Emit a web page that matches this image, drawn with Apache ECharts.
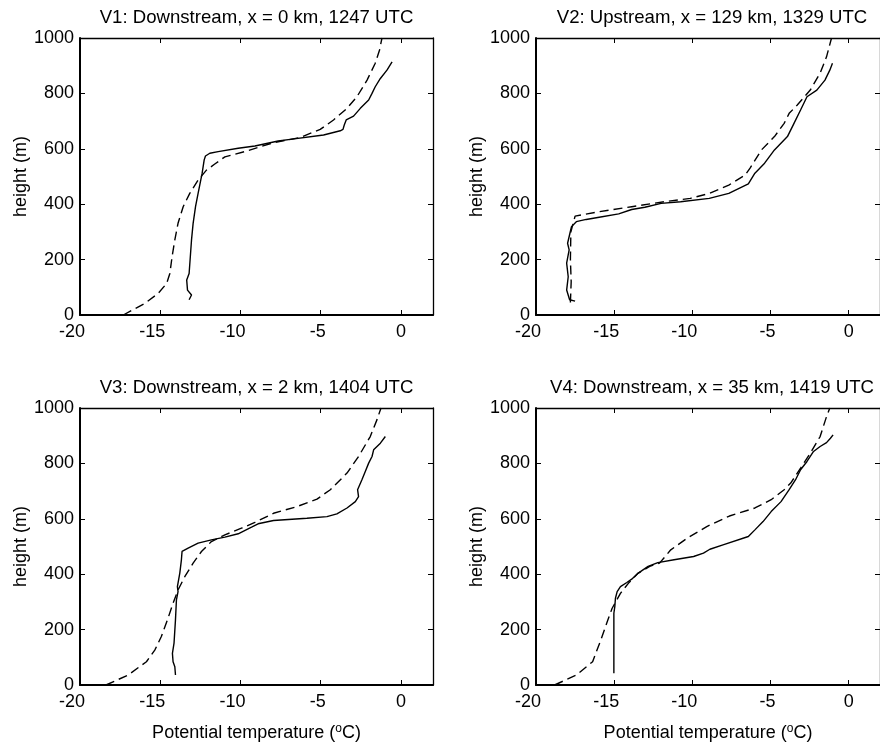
<!DOCTYPE html>
<html>
<head>
<meta charset="utf-8">
<script src="https://cdn.jsdelivr.net/npm/echarts@6/dist/echarts.min.js"></script>
<style>html,body{margin:0;padding:0;background:#fff}#c{width:880px;height:747px}</style>
</head>
<body>
<div id="c"></div>
<script>
// Titles
const titles = [
  'V1: Downstream, x = 0 km, 1247 UTC',
  'V2: Upstream, x = 129 km, 1329 UTC',
  'V3: Downstream, x = 2 km, 1404 UTC',
  'V4: Downstream, x = 35 km, 1419 UTC'
];
const xTicks = [-20, -15, -10, -5, 0];
const yTicks = [0, 200, 400, 600, 800, 1000];

// [potential temperature (°C), height (m)]
const v1Solid = [[-13.2,55],[-13.05,72],[-13.3,90],[-13.35,126],[-13.2,150],[-13.05,271],[-12.95,331],[-12.8,391],[-12.64,439],[-12.39,511],[-12.26,560],[-12.18,574],[-11.91,584],[-11.39,590],[-10.14,602],[-9.1,610],[-7.65,628],[-6.9,634],[-4.82,650],[-3.78,665],[-3.61,670],[-3.53,686],[-3.41,704],[-2.95,718],[-2.53,746],[-2.01,776],[-1.8,800],[-1.6,824],[-1.28,854],[-0.87,884],[-0.55,914]];
const v1Dash = [[-17.3,0],[-15.96,42],[-15.13,78],[-14.6,114],[-14.4,150],[-14.26,211],[-14.09,271],[-13.89,331],[-13.57,391],[-13.16,439],[-12.64,487],[-12.12,523],[-11.6,545],[-10.97,571],[-9.73,590],[-8.9,605],[-7.94,622],[-6.28,641],[-5.03,670],[-4.2,704],[-3.36,746],[-2.74,788],[-2.11,848],[-1.6,909],[-1.33,957],[-1.18,1000]];

const v2Solid = [[-17.5,50],[-17.85,55],[-18.04,90],[-17.94,138],[-18.04,187],[-17.88,235],[-17.98,259],[-17.83,295],[-17.73,319],[-17.42,337],[-16.79,345],[-15.96,353],[-14.71,365],[-13.88,381],[-13.04,389],[-12.0,403],[-10.75,409],[-8.92,421],[-7.67,439],[-6.42,473],[-6.0,512],[-5.38,548],[-4.75,596],[-3.92,644],[-3.5,692],[-3.08,740],[-2.67,788],[-2.04,812],[-1.52,848],[-1.21,884],[-1.04,909]];
const v2Dash = [[-17.8,45],[-17.75,120],[-17.8,200],[-17.77,300],[-17.5,357],[-15.96,373],[-13.88,391],[-11.79,409],[-10.13,421],[-8.92,439],[-7.67,469],[-6.63,505],[-6.31,530],[-5.58,596],[-4.75,644],[-4.13,692],[-3.81,728],[-3.29,758],[-2.46,812],[-1.83,873],[-1.42,932],[-1.1,1000]];

const v3Solid = [[-14.05,36],[-14.09,66],[-14.2,84],[-14.24,114],[-14.14,151],[-14.05,235],[-13.99,307],[-13.89,337],[-13.93,355],[-13.78,404],[-13.68,452],[-13.64,482],[-13.26,494],[-12.64,512],[-11.81,524],[-10.97,534],[-10.14,546],[-9.31,570],[-8.9,582],[-7.94,594],[-5.86,602],[-4.61,608],[-3.99,618],[-3.36,639],[-2.84,662],[-2.64,680],[-2.7,705],[-2.43,741],[-2.22,771],[-2.01,801],[-1.8,825],[-1.7,849],[-1.28,873],[-0.97,897]];
const v3Dash = [[-18.38,0],[-17.0,36],[-15.86,84],[-15.34,126],[-14.93,175],[-14.55,235],[-14.2,295],[-13.89,343],[-13.47,391],[-12.95,440],[-12.43,482],[-11.81,518],[-10.97,542],[-9.94,566],[-9.1,587],[-7.94,620],[-6.48,644],[-5.23,671],[-4.4,705],[-3.36,765],[-2.64,825],[-1.91,897],[-1.49,958],[-1.24,1000]];

const v4Solid = [[-15.02,42],[-15.02,259],[-14.96,283],[-14.92,313],[-14.81,337],[-14.6,355],[-14.19,370],[-13.88,382],[-13.46,404],[-12.83,428],[-12.21,442],[-11.17,452],[-9.92,464],[-9.29,476],[-8.88,490],[-8.04,506],[-6.42,536],[-6.0,560],[-5.48,590],[-4.96,626],[-4.33,662],[-3.81,705],[-3.4,741],[-3.08,777],[-2.67,807],[-2.25,843],[-1.83,861],[-1.42,875],[-1.17,891],[-1.0,903]];
const v4Dash = [[-18.81,0],[-17.42,36],[-16.38,84],[-15.85,163],[-15.44,229],[-15.13,277],[-14.6,331],[-14.08,368],[-13.46,404],[-12.73,428],[-12.1,440],[-11.38,488],[-10.33,530],[-9.08,572],[-7.63,610],[-6.0,639],[-4.96,669],[-4.13,705],[-3.71,729],[-3.08,783],[-2.46,837],[-1.83,897],[-1.42,969],[-1.21,1000]];

const solids = [v1Solid, v2Solid, v3Solid, v4Solid];
const dashes = [v1Dash, v2Dash, v3Dash, v4Dash];

const FONT = 'Liberation Sans, Arial, Helvetica, sans-serif';
const FS = 18;
const grids = [
  {left: 80, top: 38, width: 353, height: 277},
  {left: 536, top: 38, width: 352, height: 277},
  {left: 80, top: 408, width: 353, height: 277},
  {left: 536, top: 408, width: 352, height: 277}
];

const xLabelRich = {
  w: {fontFamily: FONT, fontSize: FS, color: '#000', padding: [0, 16, 0, 0]},
  m: {fontFamily: FONT, fontSize: FS, color: '#000', padding: [0, 6, 0, 0]},
  z: {fontFamily: FONT, fontSize: FS, color: '#000'}
};
function xFmt(v) {
  if (!xTicks.includes(v)) return '';
  if (v <= -10) return '{w|' + v + '}';
  if (v < 0) return '{m|' + v + '}';
  return '{z|' + v + '}';
}

const xAxis = [], yAxis = [], series = [], title = [];
grids.forEach((g, i) => {
  const bottomRow = i >= 2;
  title.push({
    text: titles[i], left: g.left + g.width / 2, top: g.top - 30, textAlign: 'center', padding: 0,
    textStyle: {fontFamily: FONT, fontSize: 18.6, fontWeight: 'normal', color: '#000'}
  });
  // bottom x
  xAxis.push({
    gridIndex: i, type: 'value', min: -20, max: 2, interval: 5, position: 'bottom',
    axisLine: {onZero: false, lineStyle: {color: '#000', width: 2}},
    axisTick: {inside: true, length: 5, lineStyle: {color: '#000', width: 1}},
    axisLabel: {color: '#000', fontFamily: FONT, fontSize: FS, margin: 8, showMaxLabel: false,
      formatter: xFmt, rich: xLabelRich},
    splitLine: {show: false},
    name: bottomRow ? 'Potential temperature ({sup|o}C)' : '',
    nameLocation: 'middle', nameGap: 38,
    nameTextStyle: {color: '#000', fontFamily: FONT, fontSize: FS,
      rich: {sup: {fontFamily: FONT, fontSize: 12, color: '#000', verticalAlign: 'top', padding: [0, 0, 8, 0]}}}
  });
  // top x (frame)
  xAxis.push({
    gridIndex: i, type: 'value', min: -20, max: 2, interval: 5, position: 'top',
    axisLine: {onZero: false, lineStyle: {color: '#000', width: 1.3}},
    axisTick: {inside: true, length: 5, lineStyle: {color: '#000', width: 1}},
    axisLabel: {show: false}, splitLine: {show: false}
  });
  yAxis.push({
    gridIndex: i, type: 'value', min: 0, max: 1000, interval: 200, position: 'left',
    axisLine: {onZero: false, lineStyle: {color: '#000', width: 2}},
    axisTick: {inside: true, length: 5, lineStyle: {color: '#000', width: 1}},
    axisLabel: {color: '#000', fontFamily: FONT, fontSize: FS, margin: 6,
      formatter: v => yTicks.includes(v) ? String(v) : ''},
    splitLine: {show: false},
    name: 'height (m)', nameLocation: 'middle', nameGap: 50, nameRotate: 90,
    nameTextStyle: {color: '#000', fontFamily: FONT, fontSize: FS}
  });
  yAxis.push({
    gridIndex: i, type: 'value', min: 0, max: 1000, interval: 200, position: 'right',
    axisLine: {onZero: false, lineStyle: {color: '#000', width: 1.3}},
    axisTick: {inside: true, length: 5, lineStyle: {color: '#000', width: 1}},
    axisLabel: {show: false}, splitLine: {show: false}
  });
  series.push({
    type: 'line', xAxisIndex: i * 2, yAxisIndex: i * 2, data: solids[i],
    showSymbol: false, symbol: 'none', silent: true, animation: false,
    lineStyle: {color: '#000', width: 1.4, type: 'solid'}
  });
  series.push({
    type: 'line', xAxisIndex: i * 2, yAxisIndex: i * 2, data: dashes[i],
    showSymbol: false, symbol: 'none', silent: true, animation: false,
    lineStyle: {color: '#000', width: 1.4, type: [9, 5]}
  });
});

const chart = echarts.init(document.getElementById('c'), null, {renderer: 'canvas'});
chart.setOption({
  animation: false,
  backgroundColor: '#fff',
  title, grid: grids.map(g => Object.assign({containLabel: false}, g)),
  xAxis, yAxis, series
});
</script>
</body>
</html>
